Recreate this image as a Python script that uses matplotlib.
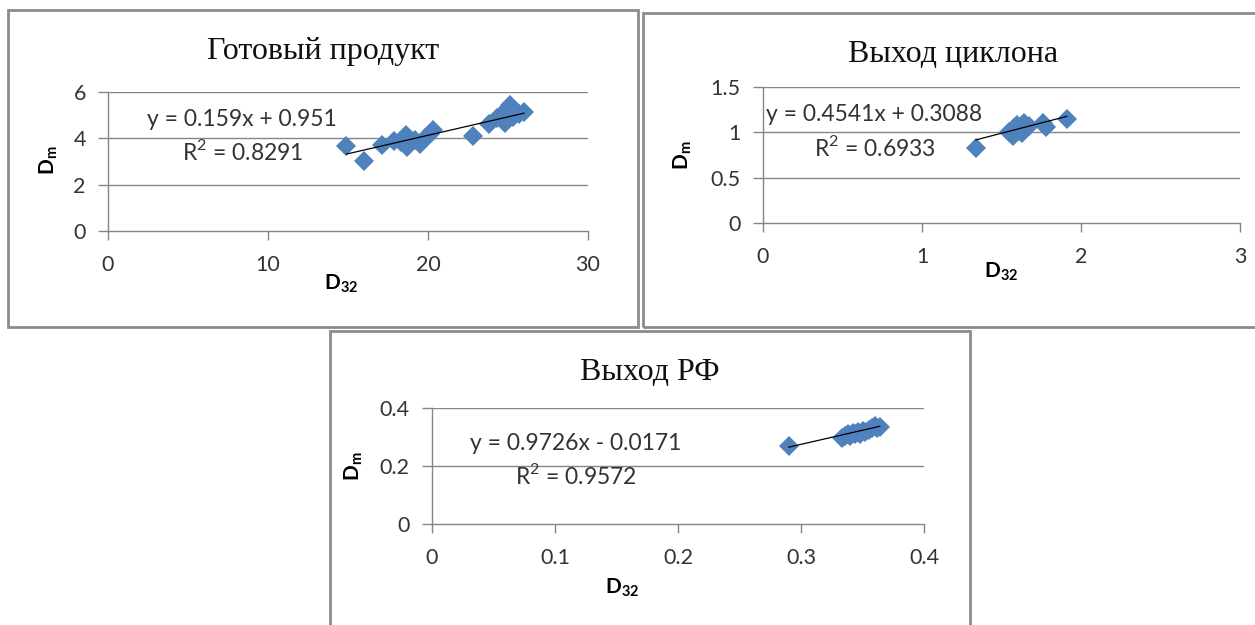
import numpy as np
import matplotlib
matplotlib.use("Agg")
import matplotlib.pyplot as plt
from matplotlib.patches import Rectangle

W, H = 1255, 625

# Готовый продукт
x1 = [14.9, 16.0, 17.1, 17.9, 18.3, 18.6, 18.7, 19.2, 19.5, 19.8, 20.1, 20.3,
      22.8, 23.8, 24.3, 24.7, 24.8, 25.1, 25.3, 25.7, 26.0]
y1 = [3.67, 3.03, 3.72, 3.9, 3.85, 4.14, 3.63, 3.93, 3.75, 4.0, 4.2, 4.36,
      4.12, 4.6, 4.87, 5.1, 4.65, 5.45, 4.9, 5.05, 5.15]
# Выход циклона
x2 = [1.34, 1.55, 1.57, 1.58, 1.60, 1.61, 1.63, 1.64, 1.65, 1.67, 1.76, 1.78, 1.91]
y2 = [0.83, 1.0, 0.96, 1.05, 1.08, 1.02, 0.99, 1.1, 1.05, 1.07, 1.1, 1.06, 1.15]
# Выход РФ
x3 = [0.290, 0.333, 0.336, 0.338, 0.340, 0.342, 0.344, 0.346, 0.348, 0.350,
      0.352, 0.355, 0.358, 0.360, 0.362, 0.364]
y3 = [0.268, 0.298, 0.305, 0.310, 0.302, 0.315, 0.310, 0.318, 0.312, 0.322,
      0.318, 0.325, 0.330, 0.338, 0.332, 0.335]

titles = ["Готовый продукт", "Выход циклона", "Выход РФ"]
slopes = [0.159, 0.4541, 0.9726]
intercepts = [0.951, 0.3088, -0.0171]
eq_texts = ["y = 0.159x + 0.951", "y = 0.4541x + 0.3088", "y = 0.9726x - 0.0171"]
r2_texts = ["R$^2$ = 0.8291", "R$^2$ = 0.6933", "R$^2$ = 0.9572"]
xlims = [(0, 30), (0, 3), (0, 0.4)]
ylims = [(0, 6), (0, 1.5), (0, 0.4)]
xticks = [[0, 10, 20, 30], [0, 1, 2, 3], [0, 0.1, 0.2, 0.3, 0.4]]
yticks = [[0, 2, 4, 6], [0, 0.5, 1, 1.5], [0, 0.2, 0.4]]
xtick_labels = [["0", "10", "20", "30"], ["0", "1", "2", "3"], ["0", "0.1", "0.2", "0.3", "0.4"]]
ytick_labels = [["0", "2", "4", "6"], ["0", "0.5", "1", "1.5"], ["0", "0.2", "0.4"]]
data = [(x1, y1), (x2, y2), (x3, y3)]

plt.rcParams["font.family"] = "Lato"
plt.rcParams["mathtext.fontset"] = "custom"
plt.rcParams["mathtext.rm"] = "Lato"
plt.rcParams["mathtext.bf"] = "Lato:bold"

fig = plt.figure(figsize=(W / 100, H / 100), dpi=100)


def fx(px):
    return px / W


def fy(py):
    return 1 - py / H


def rect(l, t, r, b):
    return [fx(l), fy(b), (r - l) / W, (b - t) / H]


# panel frames (left, top, right, bottom in pixels)
frames = [(8, 10, 638, 327), (643, 13, 1262, 327), (330, 331, 970, 640)]
for l, t, r, b in frames:
    fig.patches.append(Rectangle((fx(l), fy(b)), (r - l) / W, (b - t) / H,
                                 transform=fig.transFigure, fill=False,
                                 edgecolor="#8c8c8c", lw=2))

axes_px = [(108, 92, 588, 231), (763, 87, 1240, 223), (432, 408, 924, 524)]
title_pos = [(323, 51), (953, 55), (650, 373)]
eq_pos = [(242, 119), (874, 115), (576, 443)]
r2_pos = [(243, 152), (875, 147), (576, 475)]
dm_pos = [(49, 160), (683, 155), (354, 466)]
d32_pos = [(341, 284), (1001, 272), (622, 588)]

grid_c = "#868686"
txt_c = "#333333"
for i in range(3):
    ax = fig.add_axes(rect(*axes_px[i]))
    x, y = data[i]
    ax.plot(x, y, linestyle="none", marker="D", ms=10, mew=0, color="#4f81bd", zorder=3)
    xs = np.array([min(x), max(x)])
    ax.plot(xs, slopes[i] * xs + intercepts[i], color="black", lw=0.9, zorder=4)
    ax.set_xlim(*xlims[i])
    ax.set_ylim(*ylims[i])
    ax.set_xticks(xticks[i], xtick_labels[i])
    ax.set_yticks(yticks[i], ytick_labels[i])
    for t in yticks[i][1:]:
        ax.axhline(t, color=grid_c, lw=1, zorder=1)
    for s in ["top", "right"]:
        ax.spines[s].set_visible(False)
    for s in ["left", "bottom"]:
        ax.spines[s].set_color(grid_c)
        ax.spines[s].set_linewidth(1)
    ax.tick_params(axis="x", length=6.5, width=1, color=grid_c, pad=11, labelsize=15.5, labelcolor=txt_c)
    ax.tick_params(axis="y", length=7, width=1, color=grid_c, pad=9, labelsize=15.5, labelcolor=txt_c)
    ax.patch.set_alpha(0)

    fig.text(fx(title_pos[i][0]), fy(title_pos[i][1]), titles[i], family="Liberation Serif",
             fontsize=23, ha="center", va="center", color="#111111")
    fig.text(fx(eq_pos[i][0]), fy(eq_pos[i][1]), eq_texts[i], fontsize=16.5,
             ha="center", va="center", color=txt_c)
    fig.text(fx(r2_pos[i][0]), fy(r2_pos[i][1]), r2_texts[i], fontsize=16.5,
             ha="center", va="center", color=txt_c)
    fig.text(fx(dm_pos[i][0]), fy(dm_pos[i][1]), r"$\mathbf{D}_{\mathbf{m}}$", fontsize=15,
             ha="center", va="center", rotation=90)
    fig.text(fx(d32_pos[i][0]), fy(d32_pos[i][1]), r"$\mathbf{D}_{\mathbf{32}}$", fontsize=15,
             ha="center", va="center")

fig.savefig("out.png", dpi=100)
